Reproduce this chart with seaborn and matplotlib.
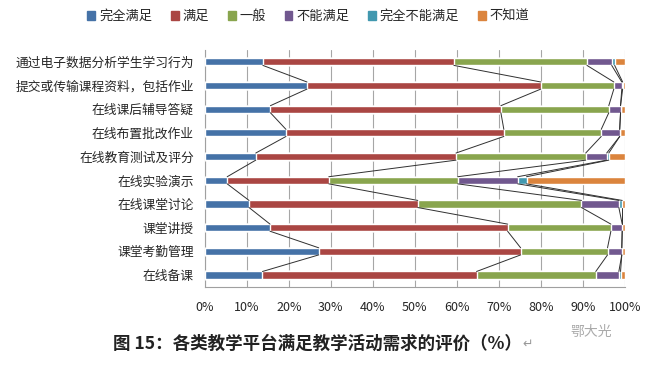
import numpy as np
import pandas as pd
import seaborn as sns
import matplotlib.pyplot as plt
import matplotlib.patches as mpatches

categories = ['通过电子数据分析学生学习行为', '提交或传输课程资料，包括作业', '在线课后辅导答疑',
              '在线布置批改作业', '在线教育测试及评分', '在线实验演示', '在线课堂讨论',
              '课堂讲授', '课堂考勤管理', '在线备课']
series_names = ['完全满足', '满足', '一般', '不能满足', '完全不能满足', '不知道']
full = [13.8, 24.3, 15.6, 19.3, 12.1, 5.3, 10.5, 15.5, 27.1, 13.7]
good = [45.5, 55.7, 54.9, 51.9, 47.7, 24.2, 40.2, 56.6, 48.1, 51.0]
normal = [31.7, 17.4, 25.7, 23.2, 30.9, 30.7, 39.0, 24.6, 20.7, 28.4]
poor = [5.9, 1.9, 2.8, 4.4, 5.0, 14.3, 8.9, 2.7, 3.4, 5.5]
none_ok = [0.7, 0.2, 0.0, 0.0, 0.5, 2.1, 0.8, 0.0, 0.0, 0.4]
unknown = [2.4, 0.5, 1.0, 1.2, 3.8, 23.4, 0.6, 0.6, 0.7, 1.0]
colors = ['#4572A7', '#AA4643', '#89A54E', '#71588F', '#4198AF', '#DB843D']

sns.set_style('white')
plt.rcParams['font.family'] = ['Noto Sans CJK SC', 'DejaVu Sans']

values = np.array([full, good, normal, poor, none_ok, unknown])
cum = np.cumsum(values, axis=0)
df = pd.DataFrame(cum.T, columns=series_names)
df['cat'] = categories

fig = plt.figure(figsize=(6.59, 3.65), dpi=100)
ax = fig.add_axes([0.311, 0.214, 0.637, 0.649])
bar_w = 0.3
# draw cumulative layers back to front
for k in range(len(series_names) - 1, -1, -1):
    sns.barplot(data=df, x=series_names[k], y='cat', orient='h', color=colors[k],
                width=bar_w, saturation=1, ax=ax, zorder=3)

# series lines connecting boundaries of adjacent bars
for k in range(len(series_names)):
    for i in range(len(categories) - 1):
        ax.plot([cum[k, i], cum[k, i + 1]], [i + bar_w / 2, i + 1 - bar_w / 2],
                color='#303030', lw=0.7, zorder=4)

ax.set_xlim(0, 100)
ax.set_ylim(len(categories) - 0.5, -0.5)
ax.set_xticks(np.arange(0, 101, 10))
ax.set_xticklabels([f'{v}%' for v in range(0, 101, 10)], fontsize=9)
ax.set_xlabel('')
ax.set_ylabel('')
ax.tick_params(axis='y', labelsize=9.2, length=0, pad=8)
ax.tick_params(axis='x', direction='out', length=4, color='#a0a0a0', pad=6)
ax.set_axisbelow(True)
ax.xaxis.grid(True, color='#a6a6a6', lw=0.8)
for s in ['top', 'right']:
    ax.spines[s].set_visible(False)
for s in ['left', 'bottom']:
    ax.spines[s].set_color('#a0a0a0')

patches = [mpatches.Patch(color=c) for c in colors]
fig.legend(patches, series_names, loc='upper center', bbox_to_anchor=(0.468, 1.005),
           ncol=6, frameon=False, fontsize=9.5, handlelength=0.6, handleheight=0.6,
           handletextpad=0.3, columnspacing=1.4)

fig.text(0.172, 0.045, '图 15：各类教学平台满足教学活动需求的评价（%）',
         fontsize=12.6, fontweight='bold', color='#222222')
fig.text(0.792, 0.047, '↵', fontsize=9, color='#999999')
fig.text(0.865, 0.08, '鄂大光', fontsize=10, color='#aaaaaa')

fig.savefig('out.png', dpi=100)
